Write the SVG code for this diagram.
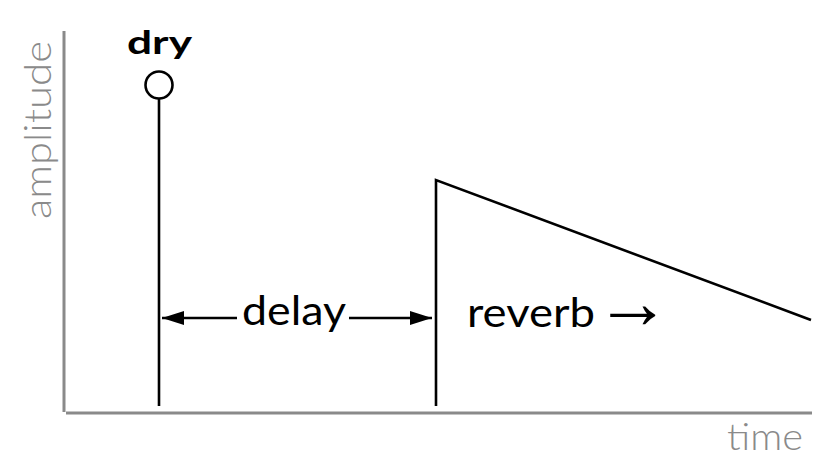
<svg xmlns="http://www.w3.org/2000/svg" width="814" height="466" viewBox="0 0 814 466">
<style>
.axis{stroke:#8a8a8a;stroke-width:3;fill:none}
.ink{stroke:#000;stroke-width:2.6;fill:none}
.lbl{font-family:Lato,"Liberation Sans",sans-serif;fill:#000}
.axl{font-family:Lato,"Liberation Sans",sans-serif;font-weight:300;fill:#8a8a8a;font-size:37px}
</style>
<defs>
<marker id="ah" viewBox="0 0 22 14" refX="22" refY="7" markerWidth="22" markerHeight="14" markerUnits="userSpaceOnUse" orient="auto-start-reverse">
<path d="M0,0 L22,7 L0,14 Z" fill="#000"/>
</marker>
</defs>
<rect width="814" height="466" fill="#fff"/>
<g id="axes">
<line class="axis" x1="64" y1="31" x2="64" y2="412"/>
<line class="axis" x1="66" y1="413" x2="812" y2="413"/>
<text class="axl" transform="translate(51,219) rotate(-90)" textLength="178" lengthAdjust="spacingAndGlyphs">amplitude</text>
<text class="axl" x="727" y="450" textLength="76" lengthAdjust="spacingAndGlyphs">time</text>
</g>
<g id="dry">
<line class="ink" x1="159" y1="99" x2="159" y2="406"/>
<circle class="ink" cx="159" cy="85" r="13.5"/>
<text class="lbl" x="127" y="54" font-size="33" font-weight="bold" textLength="65" lengthAdjust="spacingAndGlyphs">dry</text>
</g>
<g id="reverb">
<polyline class="ink" points="436,406 436,180 811,320"/>
<text class="lbl" x="467" y="327" font-size="41" textLength="128" lengthAdjust="spacingAndGlyphs">reverb</text>
<text x="632.5" y="328" text-anchor="middle" font-family="Liberation Sans,sans-serif" font-size="76">→</text>
</g>
<g id="connectors">
<line class="ink" x1="237" y1="318" x2="162" y2="318" marker-end="url(#ah)"/>
<line class="ink" x1="349" y1="318" x2="432" y2="318" marker-end="url(#ah)"/>
</g>
<g id="delay-label">
<text class="lbl" x="242" y="325" font-size="41" textLength="104" lengthAdjust="spacingAndGlyphs">delay</text>
</g>
</svg>
